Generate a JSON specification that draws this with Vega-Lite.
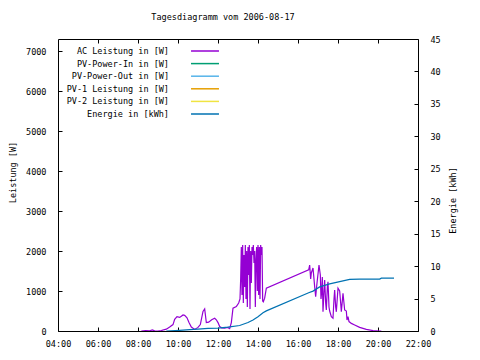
{
  "$schema": "https://vega.github.io/schema/vega-lite/v6.json",
  "width": 360,
  "height": 292,
  "autosize": "none",
  "padding": {"left": 58, "top": 39, "right": 62, "bottom": 29},
  "background": "white",
  "title": {"text": "Tagesdiagramm vom 2006-08-17", "font": "DejaVu Sans Mono", "fontSize": 8.5, "fontWeight": "normal", "color": "black", "anchor": "middle", "offset": 14, "dx": -15},
  "config": {
    "view": {"stroke": "black", "strokeWidth": 1},
    "axis": {"labelFont": "DejaVu Sans Mono", "labelFontSize": 8.5, "labelColor": "black", "titleFont": "DejaVu Sans Mono", "titleFontSize": 8.5, "titleFontWeight": "normal", "titleColor": "black", "domain": false, "grid": false, "tickColor": "black", "tickSize": -4, "tickWidth": 1},
    "legend": {"labelFont": "DejaVu Sans Mono", "labelFontSize": 8.5, "labelColor": "black"}
  },
  "datasets": {
    "ac": [
      {"t": "2006-08-17T08:10", "series": "AC Leistung in [W]", "w": 0},
      {"t": "2006-08-17T08:23", "series": "AC Leistung in [W]", "w": 10},
      {"t": "2006-08-17T08:35", "series": "AC Leistung in [W]", "w": 5},
      {"t": "2006-08-17T08:43", "series": "AC Leistung in [W]", "w": 25},
      {"t": "2006-08-17T08:50", "series": "AC Leistung in [W]", "w": 5},
      {"t": "2006-08-17T08:59", "series": "AC Leistung in [W]", "w": 0},
      {"t": "2006-08-17T09:10", "series": "AC Leistung in [W]", "w": 10},
      {"t": "2006-08-17T09:17", "series": "AC Leistung in [W]", "w": 30},
      {"t": "2006-08-17T09:25", "series": "AC Leistung in [W]", "w": 45},
      {"t": "2006-08-17T09:35", "series": "AC Leistung in [W]", "w": 100},
      {"t": "2006-08-17T09:45", "series": "AC Leistung in [W]", "w": 160},
      {"t": "2006-08-17T09:50", "series": "AC Leistung in [W]", "w": 290},
      {"t": "2006-08-17T09:57", "series": "AC Leistung in [W]", "w": 360},
      {"t": "2006-08-17T10:05", "series": "AC Leistung in [W]", "w": 340},
      {"t": "2006-08-17T10:10", "series": "AC Leistung in [W]", "w": 370},
      {"t": "2006-08-17T10:15", "series": "AC Leistung in [W]", "w": 400},
      {"t": "2006-08-17T10:20", "series": "AC Leistung in [W]", "w": 390},
      {"t": "2006-08-17T10:27", "series": "AC Leistung in [W]", "w": 330},
      {"t": "2006-08-17T10:33", "series": "AC Leistung in [W]", "w": 210},
      {"t": "2006-08-17T10:40", "series": "AC Leistung in [W]", "w": 100},
      {"t": "2006-08-17T10:50", "series": "AC Leistung in [W]", "w": 40},
      {"t": "2006-08-17T11:00", "series": "AC Leistung in [W]", "w": 90},
      {"t": "2006-08-17T11:07", "series": "AC Leistung in [W]", "w": 160},
      {"t": "2006-08-17T11:15", "series": "AC Leistung in [W]", "w": 490},
      {"t": "2006-08-17T11:20", "series": "AC Leistung in [W]", "w": 550},
      {"t": "2006-08-17T11:25", "series": "AC Leistung in [W]", "w": 210},
      {"t": "2006-08-17T11:32", "series": "AC Leistung in [W]", "w": 220},
      {"t": "2006-08-17T11:41", "series": "AC Leistung in [W]", "w": 280},
      {"t": "2006-08-17T11:50", "series": "AC Leistung in [W]", "w": 320},
      {"t": "2006-08-17T11:55", "series": "AC Leistung in [W]", "w": 280},
      {"t": "2006-08-17T12:00", "series": "AC Leistung in [W]", "w": 210},
      {"t": "2006-08-17T12:05", "series": "AC Leistung in [W]", "w": 110},
      {"t": "2006-08-17T12:11", "series": "AC Leistung in [W]", "w": 80},
      {"t": "2006-08-17T12:20", "series": "AC Leistung in [W]", "w": 70},
      {"t": "2006-08-17T12:29", "series": "AC Leistung in [W]", "w": 90},
      {"t": "2006-08-17T12:35", "series": "AC Leistung in [W]", "w": 60},
      {"t": "2006-08-17T12:40", "series": "AC Leistung in [W]", "w": 210},
      {"t": "2006-08-17T12:45", "series": "AC Leistung in [W]", "w": 570},
      {"t": "2006-08-17T12:55", "series": "AC Leistung in [W]", "w": 610},
      {"t": "2006-08-17T13:02", "series": "AC Leistung in [W]", "w": 700},
      {"t": "2006-08-17T13:06", "series": "AC Leistung in [W]", "w": 800},
      {"t": "2006-08-17T13:08", "series": "AC Leistung in [W]", "w": 1300},
      {"t": "2006-08-17T13:10", "series": "AC Leistung in [W]", "w": 2100},
      {"t": "2006-08-17T13:12", "series": "AC Leistung in [W]", "w": 900},
      {"t": "2006-08-17T13:14", "series": "AC Leistung in [W]", "w": 2150},
      {"t": "2006-08-17T13:16", "series": "AC Leistung in [W]", "w": 700},
      {"t": "2006-08-17T13:18", "series": "AC Leistung in [W]", "w": 1900},
      {"t": "2006-08-17T13:20", "series": "AC Leistung in [W]", "w": 1100},
      {"t": "2006-08-17T13:22", "series": "AC Leistung in [W]", "w": 2150},
      {"t": "2006-08-17T13:24", "series": "AC Leistung in [W]", "w": 800},
      {"t": "2006-08-17T13:26", "series": "AC Leistung in [W]", "w": 2000},
      {"t": "2006-08-17T13:28", "series": "AC Leistung in [W]", "w": 600},
      {"t": "2006-08-17T13:30", "series": "AC Leistung in [W]", "w": 2100},
      {"t": "2006-08-17T13:32", "series": "AC Leistung in [W]", "w": 1400},
      {"t": "2006-08-17T13:34", "series": "AC Leistung in [W]", "w": 2150},
      {"t": "2006-08-17T13:36", "series": "AC Leistung in [W]", "w": 550},
      {"t": "2006-08-17T13:38", "series": "AC Leistung in [W]", "w": 2000},
      {"t": "2006-08-17T13:40", "series": "AC Leistung in [W]", "w": 1200},
      {"t": "2006-08-17T13:42", "series": "AC Leistung in [W]", "w": 2100},
      {"t": "2006-08-17T13:44", "series": "AC Leistung in [W]", "w": 1900},
      {"t": "2006-08-17T13:46", "series": "AC Leistung in [W]", "w": 2150},
      {"t": "2006-08-17T13:48", "series": "AC Leistung in [W]", "w": 1700},
      {"t": "2006-08-17T13:50", "series": "AC Leistung in [W]", "w": 2000},
      {"t": "2006-08-17T13:52", "series": "AC Leistung in [W]", "w": 600},
      {"t": "2006-08-17T13:54", "series": "AC Leistung in [W]", "w": 1800},
      {"t": "2006-08-17T13:56", "series": "AC Leistung in [W]", "w": 2100},
      {"t": "2006-08-17T13:58", "series": "AC Leistung in [W]", "w": 1000},
      {"t": "2006-08-17T14:00", "series": "AC Leistung in [W]", "w": 2150},
      {"t": "2006-08-17T14:02", "series": "AC Leistung in [W]", "w": 900},
      {"t": "2006-08-17T14:04", "series": "AC Leistung in [W]", "w": 2100},
      {"t": "2006-08-17T14:06", "series": "AC Leistung in [W]", "w": 800},
      {"t": "2006-08-17T14:08", "series": "AC Leistung in [W]", "w": 2150},
      {"t": "2006-08-17T14:10", "series": "AC Leistung in [W]", "w": 1900},
      {"t": "2006-08-17T14:12", "series": "AC Leistung in [W]", "w": 2100},
      {"t": "2006-08-17T14:14", "series": "AC Leistung in [W]", "w": 750},
      {"t": "2006-08-17T14:16", "series": "AC Leistung in [W]", "w": 730},
      {"t": "2006-08-17T14:20", "series": "AC Leistung in [W]", "w": 820},
      {"t": "2006-08-17T14:25", "series": "AC Leistung in [W]", "w": 1070},
      {"t": "2006-08-17T16:32", "series": "AC Leistung in [W]", "w": 1530},
      {"t": "2006-08-17T16:35", "series": "AC Leistung in [W]", "w": 1650},
      {"t": "2006-08-17T16:38", "series": "AC Leistung in [W]", "w": 1300},
      {"t": "2006-08-17T16:40", "series": "AC Leistung in [W]", "w": 1450},
      {"t": "2006-08-17T16:45", "series": "AC Leistung in [W]", "w": 1575},
      {"t": "2006-08-17T16:50", "series": "AC Leistung in [W]", "w": 1110},
      {"t": "2006-08-17T16:53", "series": "AC Leistung in [W]", "w": 860},
      {"t": "2006-08-17T16:57", "series": "AC Leistung in [W]", "w": 1200},
      {"t": "2006-08-17T17:03", "series": "AC Leistung in [W]", "w": 1650},
      {"t": "2006-08-17T17:07", "series": "AC Leistung in [W]", "w": 1400},
      {"t": "2006-08-17T17:09", "series": "AC Leistung in [W]", "w": 800},
      {"t": "2006-08-17T17:11", "series": "AC Leistung in [W]", "w": 980},
      {"t": "2006-08-17T17:13", "series": "AC Leistung in [W]", "w": 1350},
      {"t": "2006-08-17T17:15", "series": "AC Leistung in [W]", "w": 480},
      {"t": "2006-08-17T17:18", "series": "AC Leistung in [W]", "w": 1000},
      {"t": "2006-08-17T17:20", "series": "AC Leistung in [W]", "w": 1275},
      {"t": "2006-08-17T17:23", "series": "AC Leistung in [W]", "w": 700},
      {"t": "2006-08-17T17:25", "series": "AC Leistung in [W]", "w": 525},
      {"t": "2006-08-17T17:28", "series": "AC Leistung in [W]", "w": 1100},
      {"t": "2006-08-17T17:30", "series": "AC Leistung in [W]", "w": 1230},
      {"t": "2006-08-17T17:33", "series": "AC Leistung in [W]", "w": 600},
      {"t": "2006-08-17T17:35", "series": "AC Leistung in [W]", "w": 500},
      {"t": "2006-08-17T17:40", "series": "AC Leistung in [W]", "w": 360},
      {"t": "2006-08-17T17:45", "series": "AC Leistung in [W]", "w": 320},
      {"t": "2006-08-17T17:48", "series": "AC Leistung in [W]", "w": 800},
      {"t": "2006-08-17T17:50", "series": "AC Leistung in [W]", "w": 1025},
      {"t": "2006-08-17T17:53", "series": "AC Leistung in [W]", "w": 600},
      {"t": "2006-08-17T17:55", "series": "AC Leistung in [W]", "w": 480},
      {"t": "2006-08-17T18:00", "series": "AC Leistung in [W]", "w": 1070},
      {"t": "2006-08-17T18:05", "series": "AC Leistung in [W]", "w": 1000},
      {"t": "2006-08-17T18:08", "series": "AC Leistung in [W]", "w": 700},
      {"t": "2006-08-17T18:10", "series": "AC Leistung in [W]", "w": 480},
      {"t": "2006-08-17T18:15", "series": "AC Leistung in [W]", "w": 940},
      {"t": "2006-08-17T18:20", "series": "AC Leistung in [W]", "w": 525},
      {"t": "2006-08-17T18:25", "series": "AC Leistung in [W]", "w": 500},
      {"t": "2006-08-17T18:27", "series": "AC Leistung in [W]", "w": 275},
      {"t": "2006-08-17T18:30", "series": "AC Leistung in [W]", "w": 360},
      {"t": "2006-08-17T18:33", "series": "AC Leistung in [W]", "w": 235},
      {"t": "2006-08-17T18:40", "series": "AC Leistung in [W]", "w": 190},
      {"t": "2006-08-17T18:50", "series": "AC Leistung in [W]", "w": 150},
      {"t": "2006-08-17T19:05", "series": "AC Leistung in [W]", "w": 90},
      {"t": "2006-08-17T19:25", "series": "AC Leistung in [W]", "w": 40},
      {"t": "2006-08-17T19:45", "series": "AC Leistung in [W]", "w": 10},
      {"t": "2006-08-17T20:05", "series": "AC Leistung in [W]", "w": 0},
      {"t": "2006-08-17T20:10", "series": "AC Leistung in [W]", "w": 0}
    ],
    "energy": [
      {"t": "2006-08-17T09:25", "series": "Energie in [kWh]", "kwh": 0},
      {"t": "2006-08-17T10:05", "series": "Energie in [kWh]", "kwh": 0.1},
      {"t": "2006-08-17T10:35", "series": "Energie in [kWh]", "kwh": 0.2},
      {"t": "2006-08-17T11:00", "series": "Energie in [kWh]", "kwh": 0.3},
      {"t": "2006-08-17T11:30", "series": "Energie in [kWh]", "kwh": 0.4},
      {"t": "2006-08-17T12:00", "series": "Energie in [kWh]", "kwh": 0.45},
      {"t": "2006-08-17T12:30", "series": "Energie in [kWh]", "kwh": 0.6},
      {"t": "2006-08-17T13:05", "series": "Energie in [kWh]", "kwh": 0.85},
      {"t": "2006-08-17T13:30", "series": "Energie in [kWh]", "kwh": 1.3},
      {"t": "2006-08-17T13:45", "series": "Energie in [kWh]", "kwh": 1.7},
      {"t": "2006-08-17T14:00", "series": "Energie in [kWh]", "kwh": 2.2},
      {"t": "2006-08-17T14:15", "series": "Energie in [kWh]", "kwh": 2.8},
      {"t": "2006-08-17T14:25", "series": "Energie in [kWh]", "kwh": 3.1},
      {"t": "2006-08-17T16:32", "series": "Energie in [kWh]", "kwh": 5.9},
      {"t": "2006-08-17T16:45", "series": "Energie in [kWh]", "kwh": 6.15},
      {"t": "2006-08-17T17:05", "series": "Energie in [kWh]", "kwh": 6.8},
      {"t": "2006-08-17T17:35", "series": "Energie in [kWh]", "kwh": 7.25},
      {"t": "2006-08-17T18:05", "series": "Energie in [kWh]", "kwh": 7.6},
      {"t": "2006-08-17T18:35", "series": "Energie in [kWh]", "kwh": 7.95},
      {"t": "2006-08-17T19:05", "series": "Energie in [kWh]", "kwh": 8.0},
      {"t": "2006-08-17T20:05", "series": "Energie in [kWh]", "kwh": 8.0},
      {"t": "2006-08-17T20:10", "series": "Energie in [kWh]", "kwh": 8.15},
      {"t": "2006-08-17T20:48", "series": "Energie in [kWh]", "kwh": 8.15}
    ]
  },
  "encoding": {
    "color": {
      "field": "series", "type": "nominal",
      "scale": {
        "domain": ["AC Leistung in [W]", "PV-Power-In in [W]", "PV-Power-Out in [W]", "PV-1 Leistung in [W]", "PV-2 Leistung in [W]", "Energie in [kWh]"],
        "range": ["#9400d3", "#009e73", "#56b4e9", "#e69f00", "#f0e442", "#0072b2"]
      },
      "legend": {
        "title": null, "orient": "none", "legendX": 139.5, "legendY": 4.5,
        "symbolType": "M-2.15,0H2.15", "symbolSize": 169, "symbolStrokeWidth": 1.5,
        "labelAlign": "right", "labelOffset": -43.5, "rowPadding": 0.6, "labelLimit": 200
      }
    }
  },
  "layer": [
    {
      "data": {"name": "ac"},
      "mark": {"type": "line", "strokeWidth": 1.2, "clip": true},
      "encoding": {
        "x": {
          "field": "t", "type": "temporal",
          "scale": {"domain": [{"year": 2006, "month": 8, "date": 17, "hours": 4}, {"year": 2006, "month": 8, "date": 17, "hours": 22}]},
          "axis": {
            "orient": "bottom", "format": "%H:%M", "title": null, "labelPadding": 12, "labelFlush": false,
            "values": [
              {"year": 2006, "month": 8, "date": 17, "hours": 4},
              {"year": 2006, "month": 8, "date": 17, "hours": 6},
              {"year": 2006, "month": 8, "date": 17, "hours": 8},
              {"year": 2006, "month": 8, "date": 17, "hours": 10},
              {"year": 2006, "month": 8, "date": 17, "hours": 12},
              {"year": 2006, "month": 8, "date": 17, "hours": 14},
              {"year": 2006, "month": 8, "date": 17, "hours": 16},
              {"year": 2006, "month": 8, "date": 17, "hours": 18},
              {"year": 2006, "month": 8, "date": 17, "hours": 20},
              {"year": 2006, "month": 8, "date": 17, "hours": 22}
            ]
          }
        },
        "y": {
          "field": "w", "type": "quantitative",
          "scale": {"domain": [0, 7300], "nice": false},
          "axis": {"orient": "left", "values": [0, 1000, 2000, 3000, 4000, 5000, 6000, 7000], "format": "d", "title": "Leistung [W]", "labelPadding": 16, "titleAngle": 270, "titleX": -46, "titleY": 133, "titleAlign": "center", "titleBaseline": "middle"}
        }
      }
    },
    {
      "data": {"name": "energy"},
      "mark": {"type": "line", "strokeWidth": 1.2, "clip": true},
      "encoding": {
        "x": {
          "field": "t", "type": "temporal",
          "axis": {
            "orient": "top", "title": null, "labels": false,
            "values": [
              {"year": 2006, "month": 8, "date": 17, "hours": 6},
              {"year": 2006, "month": 8, "date": 17, "hours": 8},
              {"year": 2006, "month": 8, "date": 17, "hours": 10},
              {"year": 2006, "month": 8, "date": 17, "hours": 12},
              {"year": 2006, "month": 8, "date": 17, "hours": 14},
              {"year": 2006, "month": 8, "date": 17, "hours": 16},
              {"year": 2006, "month": 8, "date": 17, "hours": 18},
              {"year": 2006, "month": 8, "date": 17, "hours": 20}
            ]
          }
        },
        "y": {
          "field": "kwh", "type": "quantitative",
          "scale": {"domain": [0, 45], "nice": false},
          "axis": {"orient": "right", "values": [0, 5, 10, 15, 20, 25, 30, 35, 40, 45], "title": "Energie [kWh]", "labelPadding": 16, "titleAngle": 270, "titleX": 34, "titleY": 161, "titleAlign": "center", "titleBaseline": "middle"}
        }
      }
    }
  ],
  "resolve": {"scale": {"y": "independent"}, "axis": {"x": "independent"}}
}
